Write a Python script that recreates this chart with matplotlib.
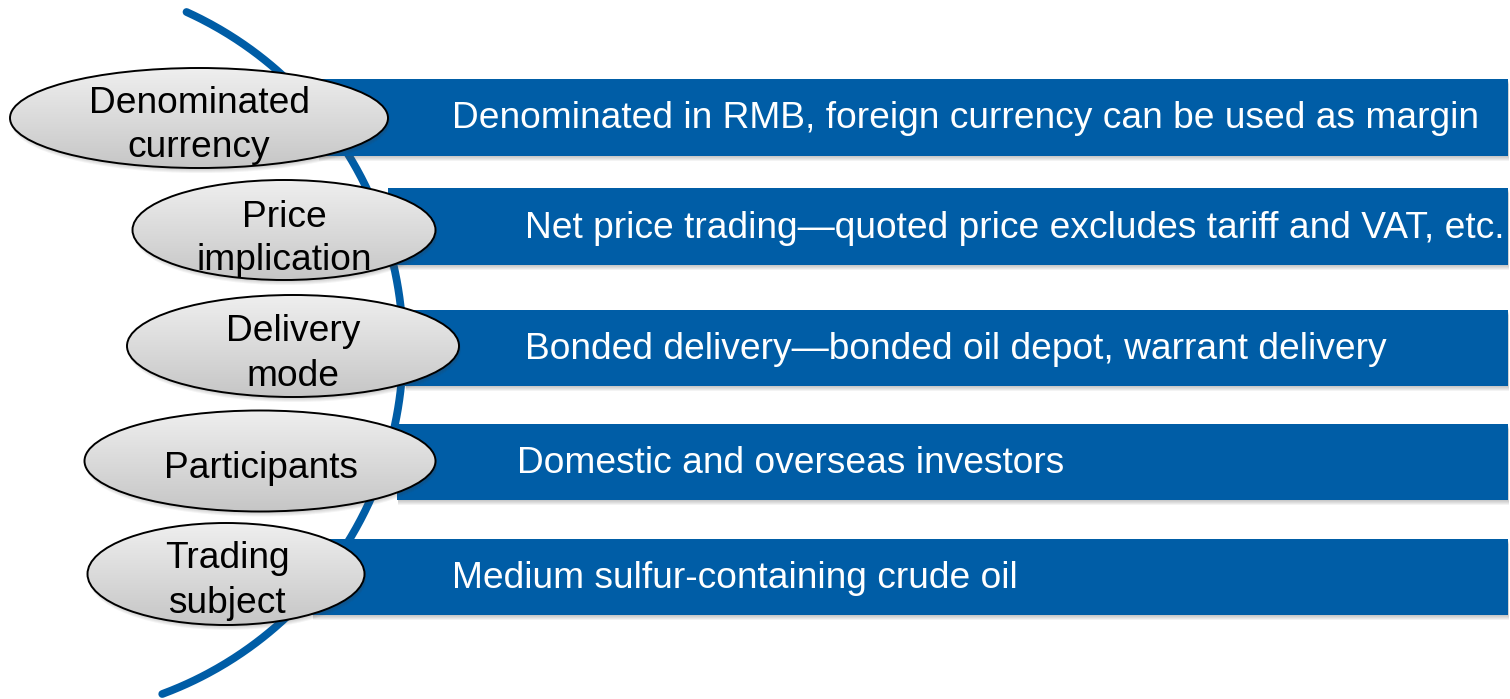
import numpy as np
import matplotlib
matplotlib.use("Agg")
import matplotlib.pyplot as plt
from matplotlib.patches import Rectangle, Ellipse
from matplotlib.colors import LinearSegmentedColormap

# ---- content ----
categories = [["Denominated", "currency"],
              ["Price", "implication"],
              ["Delivery", "mode"],
              ["Participants"],
              ["Trading", "subject"]]
descriptions = ["Denominated in RMB, foreign currency can be used as margin",
                "Net price trading\u2014quoted price excludes tariff and VAT, etc.",
                "Bonded delivery\u2014bonded oil depot, warrant delivery",
                "Domestic and overseas investors",
                "Medium sulfur-containing crude oil"]

# ---- layout (pixel space) ----
W, H = 1510, 699
bar_top = [79, 188, 310, 424, 539]
bar_bot = [156, 265, 386, 500, 615]
bar_left = [318, 388, 405, 397, 312]
bar_right = 1508
text_x = [452, 525, 525, 517, 452]
ell_cx = [199, 284, 293, 260, 226]
ell_cy = [118, 230, 346, 461, 574]
ell_w = [378, 303, 332, 351, 277]
ell_h = [100, 100, 102, 101, 102]
lab_x = [199, 284, 293, 261, 227]
lab_base = [[113, 157], [227, 270], [341, 386], [478], [568, 613]]
arc_c = (34, 348)
arc_r = 369
arc_y = (12, 694)

BLUE = "#005DA6"
FONT = "Liberation Sans"
FS = 26.7

fig = plt.figure(figsize=(W / 100, H / 100), dpi=100)
ax = fig.add_axes([0, 0, 1, 1])
ax.set_xlim(0, W)
ax.set_ylim(H, 0)
ax.axis("off")

# arc
ys = np.linspace(arc_y[0], arc_y[1], 400)
xs = arc_c[0] + np.sqrt(np.clip(arc_r ** 2 - (ys - arc_c[1]) ** 2, 0, None))
ax.plot(xs, ys, color=BLUE, lw=5.6, solid_capstyle="round", zorder=1)

# gradient for ellipses
grad = np.linspace(0, 1, 256).reshape(-1, 1)
gcmap = LinearSegmentedColormap.from_list("g", ["#efefef", "#c6c6c6"])

for i in range(5):
    t, b, l = bar_top[i], bar_bot[i], bar_left[i]
    # shadow
    for k in range(1, 6):
        ax.add_patch(Rectangle((l + 1, t + k), bar_right - l - 1 + min(k, 3) * 0.3, b - t,
                               facecolor="#555555", alpha=0.07, lw=0, zorder=2))
    ax.add_patch(Rectangle((l, t), bar_right - l, b - t, facecolor=BLUE, lw=0, zorder=3))
    ax.text(text_x[i], (t + b) / 2 + 11, descriptions[i], color="white", fontsize=FS,
            family=FONT, ha="left", va="baseline", zorder=4)

    cx, cy, w, h = ell_cx[i], ell_cy[i], ell_w[i], ell_h[i]
    for k in range(1, 6):
        ax.add_patch(Ellipse((cx + 1.5, cy + k), w, h, facecolor="#444444", alpha=0.06,
                             lw=0, zorder=5))
    e = Ellipse((cx, cy), w, h, facecolor="none", edgecolor="black", lw=1.4, zorder=7)
    clip = Ellipse((cx, cy), w, h, facecolor="none", edgecolor="none", transform=ax.transData)
    ax.add_patch(clip)
    im = ax.imshow(grad, cmap=gcmap, aspect="auto", origin="upper",
                   extent=(cx - w / 2, cx + w / 2, cy + h / 2, cy - h / 2), zorder=6,
                   interpolation="bilinear")
    im.set_clip_path(clip)
    ax.add_patch(e)
    for line, yb in zip(categories[i], lab_base[i]):
        ax.text(lab_x[i], yb, line, color="black", fontsize=FS, family=FONT,
                ha="center", va="baseline", zorder=8)

ax.set_xlim(0, W)
ax.set_ylim(H, 0)
fig.savefig("out.png", dpi=100)
